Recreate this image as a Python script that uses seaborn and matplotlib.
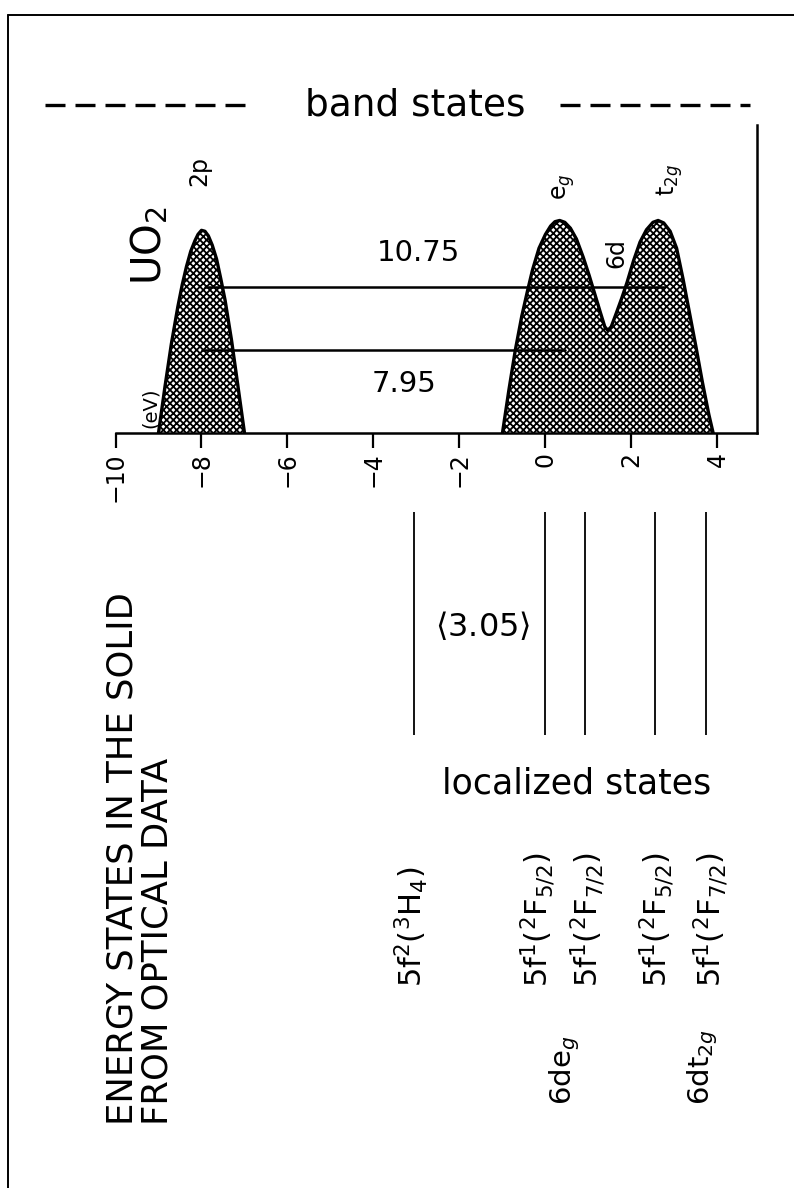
import numpy as np
import pandas as pd
import matplotlib
matplotlib.use("Agg")
import matplotlib.pyplot as plt
import seaborn as sns
from matplotlib.lines import Line2D

# ---------------- data ----------------
energy_ticks = [-10, -8, -6, -4, -2, 0, 2, 4]

band_2p_energy = [-9.0, -8.85, -8.7, -8.55, -8.45, -8.35, -8.25, -8.15, -8.08, -8.0,
                  -7.92, -7.84, -7.75, -7.65, -7.55, -7.45, -7.3, -7.15, -7.0]
band_2p_density = [0.0, 0.15, 0.29, 0.41, 0.48, 0.54, 0.59, 0.625, 0.645, 0.658,
                   0.655, 0.64, 0.61, 0.565, 0.5, 0.43, 0.3, 0.15, 0.0]

band_6d_energy = [-1.0, -0.85, -0.7, -0.55, -0.42, -0.3, -0.15, 0.0, 0.12, 0.22, 0.33,
                  0.45, 0.58, 0.72, 0.88, 1.02, 1.15, 1.28, 1.38, 1.45, 1.53, 1.65,
                  1.78, 1.9, 2.05, 2.2, 2.35, 2.5, 2.62, 2.75, 2.9, 3.05, 3.2, 3.35,
                  3.5, 3.65, 3.8, 3.9]
band_6d_density = [0.0, 0.14, 0.27, 0.38, 0.46, 0.53, 0.6, 0.645, 0.672, 0.686, 0.69,
                   0.684, 0.665, 0.63, 0.57, 0.51, 0.45, 0.39, 0.345, 0.333, 0.345, 0.39,
                   0.44, 0.49, 0.56, 0.62, 0.66, 0.684, 0.69, 0.682, 0.655, 0.6, 0.5, 0.39,
                   0.28, 0.165, 0.06, 0.0]

peak_labels = ["2p", r"e$_g$", "6d", r"t$_{2g}$"]
peak_label_energy = [-8.05, 0.42, 1.65, 2.88]
peak_label_height = [0.85, 0.80, 0.585, 0.82]

transition_values = ["10.75", "7.95"]
transition_start = [-7.92, -7.98]
transition_end = [2.75, 0.45]
transition_height = [0.475, 0.27]
transition_label_energy = [-2.95, -3.3]
transition_label_height = [0.585, 0.16]

local_energy = [-3.05, 0.0, 0.93, 2.55, 3.73]
local_labels = [r"5f$^2$($^3$H$_4$)", r"5f$^1$($^2$F$_{5/2}$)", r"5f$^1$($^2$F$_{7/2}$)",
                r"5f$^1$($^2$F$_{5/2}$)", r"5f$^1$($^2$F$_{7/2}$)"]
local_label_energy = [-3.12, -0.17, 0.99, 2.6, 3.85]
gap_label = r"$\langle$3.05$\rangle$"
group_labels = [r"6de$_g$", r"6dt$_{2g}$"]
group_label_energy = [0.45, 3.66]

# ---------------- style ----------------
sns.set_theme(style="white")
plt.rcParams["font.family"] = ["DejaVu Sans"]
plt.rcParams["mathtext.fontset"] = "dejavusans"
plt.rcParams["text.color"] = "black"
plt.rcParams["xtick.color"] = "black"
plt.rcParams["axes.labelcolor"] = "black"
plt.rcParams["hatch.linewidth"] = 1.3
plt.rcParams["hatch.color"] = "black"

W, H = 794, 1188
def fx(px):
    return px / W
def fy(py):
    return 1 - py / H

fig = plt.figure(figsize=(W / 100, H / 100), dpi=100)
fig.patch.set_facecolor("white")

x0, x1 = 115.5, 757.0
xlim = (-10, 4.92)
ax = fig.add_axes([fx(x0), fy(433), fx(x1) - fx(x0), fy(125) - fy(433)])
ax.set_xlim(*xlim)
ax.set_ylim(0, 1)
ax.patch.set_alpha(0)

# bands
for e, d in [(band_2p_energy, band_2p_density), (band_6d_energy, band_6d_density)]:
    ax.fill_between(e, 0, d, facecolor="white", edgecolor="black", hatch="xxxxx",
                    linewidth=0, zorder=1)
    df = pd.DataFrame({"E": e, "D": d})
    sns.lineplot(data=df, x="E", y="D", sort=False, color="black", linewidth=2.4,
                 ax=ax, zorder=3)

# transitions
for s, t, h in zip(transition_start, transition_end, transition_height):
    ax.plot([s, t], [h, h], color="black", linewidth=1.8, zorder=4)
for lab, e, h in zip(transition_values, transition_label_energy, transition_label_height):
    ax.text(e, h, lab, fontsize=21, ha="center", va="center")

for lab, e, h in zip(peak_labels, peak_label_energy, peak_label_height):
    ax.text(e, h, lab, fontsize=17, rotation=90, ha="center", va="center")

ax.text(-9.2, 0.48, r"UO$_2$", fontsize=29, rotation=90, ha="center", va="bottom")
ax.text(-9.2, 0.015, "(eV)", fontsize=14, rotation=90, ha="center", va="bottom")

ax.set_xlabel("")
ax.set_ylabel("")
ax.set_xticks(energy_ticks)
ax.set_xticklabels([f"{v:d}".replace("-", "\u2212") for v in energy_ticks],
                   rotation=90, fontsize=17)
ax.set_yticks([])
ax.tick_params(axis="x", direction="out", length=11, width=1.6, pad=3,
               bottom=True, colors="black")
for side in ["left", "top"]:
    ax.spines[side].set_visible(False)
for side in ["bottom", "right"]:
    ax.spines[side].set_visible(True)
    ax.spines[side].set_color("black")
    ax.spines[side].set_linewidth(1.8)

# localized states panel
ax2 = fig.add_axes([fx(x0), 0, fx(x1) - fx(x0), fy(490)])
ax2.set_xlim(*xlim)
ax2.set_ylim(H, 490)
ax2.axis("off")
ax2.vlines(local_energy, 512, 735, color="black", linewidth=1.3)
ax2.text(-1.45, 626, gap_label, fontsize=23, ha="center", va="center")
ax2.text(0.73, 783, "localized states", fontsize=25, ha="center", va="center")
for lab, e in zip(local_labels, local_label_energy):
    ax2.text(e, 987, lab, fontsize=22, rotation=90, ha="center", va="bottom")
for lab, e in zip(group_labels, group_label_energy):
    ax2.text(e, 1105, lab, fontsize=21, rotation=90, ha="center", va="bottom")

fig.text(fx(140), fy(1125), "ENERGY STATES IN THE SOLID\nFROM OPTICAL DATA",
         fontsize=25.5, rotation=90, ha="center", va="bottom", linespacing=1.05,
         multialignment="left")

# headline
fig.text(fx(415), fy(105), "band states", fontsize=27, ha="center", va="center")
for a, b in [(45, 255), (560, 750)]:
    fig.add_artist(Line2D([fx(a), fx(b)], [fy(105), fy(105)], transform=fig.transFigure,
                          color="black", linewidth=2.4, linestyle=(0, (6, 3))))

# frame
fig.add_artist(Line2D([fx(8), 1.0], [fy(15), fy(15)], transform=fig.transFigure,
                      color="black", linewidth=1.4))
fig.add_artist(Line2D([fx(8), fx(8)], [0.0, fy(15)], transform=fig.transFigure,
                      color="black", linewidth=1.4))

fig.savefig("out.png", dpi=100, facecolor="white")
